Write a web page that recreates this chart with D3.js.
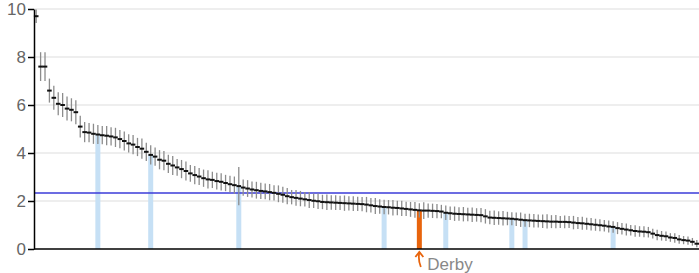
<!DOCTYPE html>
<html>
<head>
<meta charset="utf-8">
<script src="https://cdn.jsdelivr.net/npm/d3@7"></script>
<style>
  body { margin: 0; background: #fff; }
  text { font-family: "Liberation Sans", Arial, sans-serif; }
</style>
</head>
<body>
<div id="chart"></div>
<script>
// mean value per area, sorted descending
const values = [
  9.7, 7.6, 7.6, 6.6, 6.3, 6.05, 6.0, 5.85, 5.8, 5.7,
  5.1, 4.87, 4.85, 4.8, 4.77, 4.74, 4.72, 4.69, 4.65, 4.58,
  4.5, 4.4, 4.35, 4.25, 4.18, 4.05, 3.92, 3.85, 3.72, 3.68,
  3.55, 3.48, 3.4, 3.33, 3.25, 3.15, 3.08, 3.02, 2.95, 2.9,
  2.88, 2.83, 2.8, 2.75, 2.7, 2.66, 2.62, 2.56, 2.52, 2.48,
  2.45, 2.42, 2.4, 2.37, 2.34, 2.3, 2.26, 2.2, 2.16, 2.13,
  2.1, 2.07, 2.04, 2.01, 1.99, 1.96, 1.95, 1.94, 1.93, 1.92,
  1.91, 1.9, 1.89, 1.88, 1.87, 1.85, 1.82, 1.79, 1.77, 1.75,
  1.74, 1.72, 1.71, 1.69, 1.67, 1.65, 1.63, 1.61, 1.6, 1.6,
  1.59, 1.58, 1.56, 1.51, 1.49, 1.47, 1.46, 1.45, 1.44, 1.43,
  1.42, 1.41, 1.36, 1.31, 1.3, 1.29, 1.28, 1.27, 1.26, 1.24,
  1.22, 1.2, 1.19, 1.18, 1.17, 1.16, 1.15, 1.14, 1.14, 1.13,
  1.13, 1.12, 1.1, 1.08, 1.07, 1.05, 1.03, 1.01, 0.99, 0.97,
  0.94, 0.92, 0.87, 0.84, 0.81, 0.78, 0.75, 0.73, 0.72, 0.7,
  0.64, 0.58, 0.55, 0.53, 0.48, 0.46, 0.4, 0.37, 0.35, 0.3,
  0.22
];
// half width of the error bar
const errors = [
  0.28, 0.6, 0.6, 0.5, 0.5, 0.48, 0.5, 0.5, 0.48, 0.5,
  0.45, 0.42, 0.4, 0.42, 0.4, 0.38, 0.4, 0.38, 0.4, 0.38,
  0.4, 0.38, 0.4, 0.38, 0.42, 0.38, 0.4, 0.38, 0.4, 0.4,
  0.38, 0.4, 0.35, 0.38, 0.4, 0.35, 0.38, 0.35, 0.36, 0.38,
  0.34, 0.35, 0.36, 0.34, 0.35, 0.36, 0.8, 0.34, 0.35, 0.33,
  0.35, 0.34, 0.33, 0.34, 0.32, 0.35, 0.33, 0.34, 0.3, 0.33,
  0.32, 0.3, 0.33, 0.3, 0.32, 0.3, 0.32, 0.3, 0.31, 0.3,
  0.32, 0.3, 0.31, 0.3, 0.3, 0.32, 0.3, 0.33, 0.3, 0.3,
  0.3, 0.32, 0.3, 0.32, 0.3, 0.31, 0.33, 0.3, 0.35, 0.3,
  0.3, 0.3, 0.28, 0.3, 0.28, 0.3, 0.28, 0.3, 0.28, 0.3,
  0.28, 0.3, 0.3, 0.28, 0.3, 0.28, 0.3, 0.28, 0.27, 0.28,
  0.3, 0.27, 0.28, 0.28, 0.27, 0.28, 0.3, 0.27, 0.28, 0.25,
  0.27, 0.25, 0.28, 0.25, 0.27, 0.25, 0.26, 0.25, 0.25, 0.24,
  0.25, 0.24, 0.25, 0.24, 0.25, 0.22, 0.24, 0.22, 0.23, 0.22,
  0.2, 0.22, 0.2, 0.2, 0.18, 0.2, 0.18, 0.17, 0.17, 0.16,
  0.15
];
const highlighted = [14, 26, 46, 79, 93, 108, 111, 131];
const derbyIndex = 87;
const derbyLabel = 'Derby';
const average = 2.33;
const yTicks = [0, 2, 4, 6, 8, 10];

const width = 699, height = 273;
const margin = { top: 9, right: 0, bottom: 24, left: 34 };
const innerW = width - margin.left - margin.right;
const innerH = height - margin.top - margin.bottom;

const svg = d3.select('#chart').append('svg')
  .attr('width', width)
  .attr('height', height);

const g = svg.append('g')
  .attr('transform', 'translate(' + margin.left + ',' + margin.top + ')');

const x = d3.scaleBand().domain(d3.range(values.length)).range([0, innerW]);
const y = d3.scaleLinear().domain([0, 10]).range([innerH, 0]);
const cx = i => x(i) + x.bandwidth() / 2;

// gridlines
g.append('g').selectAll('line').data(yTicks.filter(d => d > 0)).enter()
  .append('line')
  .attr('x1', 0).attr('x2', innerW)
  .attr('y1', d => y(d)).attr('y2', d => y(d))
  .attr('stroke', '#ddd').attr('stroke-width', 1);

// highlighted areas
g.append('g').selectAll('rect').data(highlighted).enter()
  .append('rect')
  .attr('x', i => cx(i) - 2.5)
  .attr('width', 5)
  .attr('y', i => y(values[i]))
  .attr('height', i => y(0) - y(values[i]))
  .attr('fill', '#c6e0f5');

g.append('rect')
  .attr('x', cx(derbyIndex) - 2.5)
  .attr('width', 5)
  .attr('y', y(values[derbyIndex]))
  .attr('height', y(0) - y(values[derbyIndex]))
  .attr('fill', '#e8640c');

// average line
g.append('line')
  .attr('x1', 0).attr('x2', innerW)
  .attr('y1', y(average)).attr('y2', y(average))
  .attr('stroke', '#3b3bd8').attr('stroke-width', 1.5);

// error bars
g.append('g').selectAll('line').data(values).enter()
  .append('line')
  .attr('x1', (d, i) => cx(i)).attr('x2', (d, i) => cx(i))
  .attr('y1', (d, i) => y(d + errors[i]))
  .attr('y2', (d, i) => y(Math.max(0, d - errors[i])))
  .attr('stroke', '#8c8c8c').attr('stroke-width', 1.3);

// means
g.append('g').selectAll('line').data(values).enter()
  .append('line')
  .attr('x1', (d, i) => cx(i) - 2.3).attr('x2', (d, i) => cx(i) + 2.3)
  .attr('y1', d => y(d)).attr('y2', d => y(d))
  .attr('stroke', '#111').attr('stroke-width', 2);

// axes
const yAxis = g.append('g')
  .call(d3.axisLeft(y).tickValues(yTicks).tickSize(6).tickSizeOuter(0));
yAxis.select('.domain').attr('stroke', '#000').attr('stroke-width', 1.5);
yAxis.selectAll('.tick line').attr('stroke', '#000').attr('stroke-width', 1.5);
yAxis.selectAll('.tick text')
  .attr('fill', '#666')
  .attr('font-size', 17)
  .attr('font-family', '"Liberation Sans", Arial, sans-serif')
  .attr('x', -8);

g.append('line')
  .attr('x1', 0).attr('x2', innerW)
  .attr('y1', y(0)).attr('y2', y(0))
  .attr('stroke', '#000').attr('stroke-width', 1.5);

// Derby annotation
const ax = cx(derbyIndex);
const ay = y(0) + 3;
g.append('path')
  .attr('d', 'M' + ax + ',' + ay + ' Q' + (ax - 1.5) + ',' + (ay + 8) + ' ' + (ax + 1.5) + ',' + (ay + 15))
  .attr('fill', 'none').attr('stroke', '#e8640c').attr('stroke-width', 1.8);
g.append('path')
  .attr('d', 'M' + (ax - 4) + ',' + (ay + 5) + ' L' + ax + ',' + ay + ' L' + (ax + 4) + ',' + (ay + 5))
  .attr('fill', 'none').attr('stroke', '#e8640c').attr('stroke-width', 1.8);
g.append('text')
  .attr('x', ax + 8)
  .attr('y', y(0) + 21)
  .attr('fill', '#888')
  .attr('font-size', 17)
  .text(derbyLabel);
</script>
</body>
</html>
